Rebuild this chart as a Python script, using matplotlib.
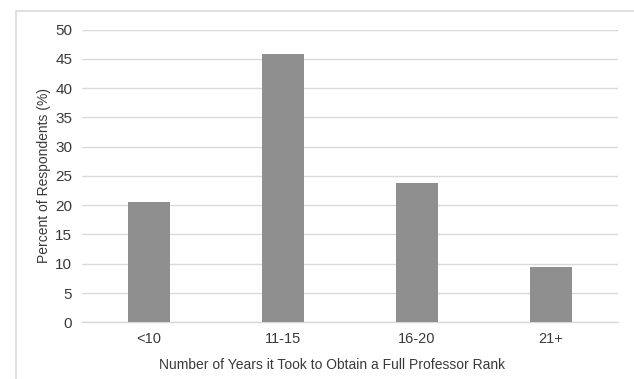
import matplotlib
matplotlib.use("Agg")
import matplotlib.pyplot as plt
from matplotlib.patches import Rectangle

categories = ["<10", "11-15", "16-20", "21+"]
values = [20.5, 45.9, 23.8, 9.5]
yticks = [0, 5, 10, 15, 20, 25, 30, 35, 40, 45, 50]

plt.rcParams['font.family'] = ['Liberation Sans', 'DejaVu Sans']
W, H = 634, 379
fig = plt.figure(figsize=(W/100, H/100), dpi=100)

# outer border
fig.patches.append(Rectangle((16/W, -0.1), 1.2, 1 - 11/H + 0.1, transform=fig.transFigure,
                             fill=False, edgecolor='#d9d9d9', linewidth=1.2))

tc = '#3a3a3a'
ax = fig.add_axes([82/W, 1 - 322.3/H, (618-82)/W, (322.3-29.5)/H])
x = range(len(categories))
ax.bar(x, values, width=0.31, color='#8f8f8f', zorder=3)
ax.set_xlim(-0.5, 3.5)
ax.set_ylim(0, 50)
ax.set_yticks(yticks)
ax.set_xticks(list(x))
ax.set_xticklabels(categories)
ax.grid(axis='y', color='#d9d9d9', linewidth=1.0, zorder=0)
for s in ['top', 'right', 'left']:
    ax.spines[s].set_visible(False)
ax.spines['bottom'].set_color('#d9d9d9')
ax.spines['bottom'].set_linewidth(1.0)
ax.tick_params(axis='both', length=0, colors=tc)
ax.tick_params(axis='y', pad=7, labelsize=11)
ax.tick_params(axis='x', pad=7, labelsize=10.5)
ax.set_ylabel("Percent of Respondents (%)", fontsize=10, color=tc)
ax.set_xlabel("Number of Years it Took to Obtain a Full Professor Rank", fontsize=10, color=tc)
ax.xaxis.set_label_coords((332-82)/536, -(365-322.3)/292.8)
ax.xaxis.label.set_va('center')
ax.yaxis.set_label_coords((44-82)/536, 0.5)
ax.yaxis.label.set_va('center')

fig.savefig("out.png", dpi=100)
